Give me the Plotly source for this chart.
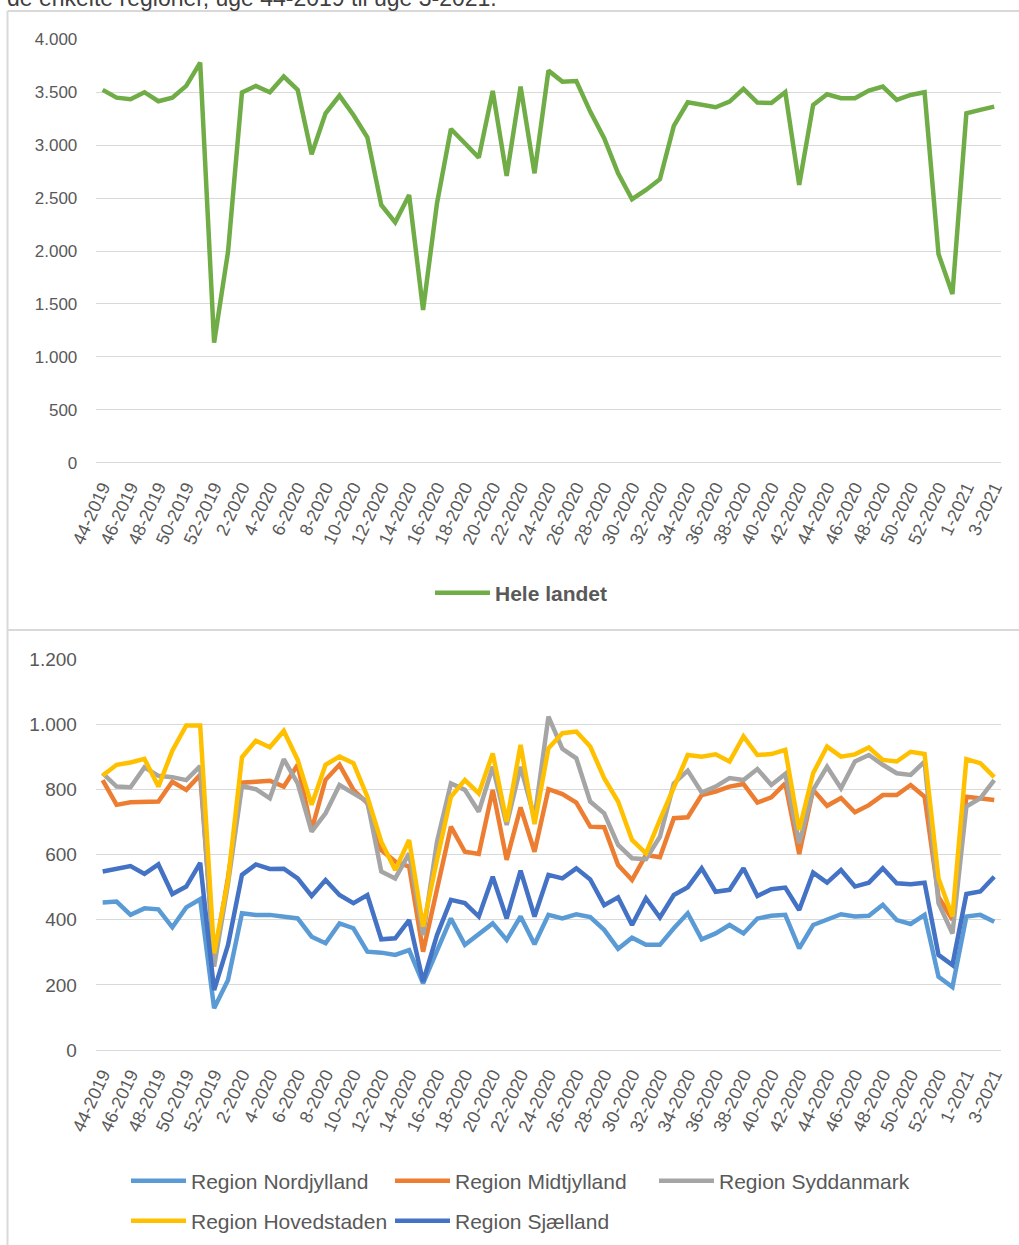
import plotly.graph_objects as go

# ---------------- data ----------------
weeks = ([f"{w}-2019" for w in range(44, 53)]
         + [f"{w}-2020" for w in range(1, 54)]
         + [f"{w}-2021" for w in range(1, 4)])

hele_landet = [3522, 3449, 3434, 3500, 3415, 3449, 3560, 3780, 1134, 1994,
               3497, 3560, 3500, 3648, 3522, 2914, 3301, 3468, 3285, 3074,
               2435, 2271, 2529, 1443, 2451, 3153, 3018, 2882, 3512, 2709,
               3553, 2734, 3704, 3600, 3606, 3317, 3065, 2734, 2489, 2577,
               2678, 3182, 3405, 3380, 3358, 3411, 3531, 3402, 3399, 3500,
               2624, 3380, 3481, 3443, 3443, 3515, 3553, 3427, 3474, 3500,
               1972, 1594, 3301, 3333, 3364]

nordjylland = [453, 456, 415, 435, 432, 377, 438, 463, 128, 215, 420, 415, 415, 408, 404, 348, 328,
               389, 374, 302, 299, 292, 307, 205, 307, 404, 323, 358, 389, 338, 410, 325, 415, 404,
               417, 408, 369, 311, 345, 323, 323, 374, 420, 340, 358, 384, 358, 404, 412, 415,
               312, 384, 399, 417, 410, 412, 446, 399, 387, 415, 225, 193, 410, 415, 394]

midtjylland = [829, 753, 761, 763, 763, 824, 799, 845, 280, 530, 821, 824, 827, 809, 876, 676, 830,
               876, 799, 758, 614, 579, 563, 302, 492, 686, 609, 602, 799, 584, 745, 609, 801, 786,
               760, 686, 684, 568, 522, 599, 592, 712, 715, 783, 794, 809, 817, 760, 776, 819,
               602, 799, 750, 774, 730, 752, 783, 783, 814, 778, 470, 400, 778, 773, 768]

syddanmark = [850, 809, 807, 868, 842, 838, 829, 872, 256, 512, 811, 801, 773, 893, 819, 671, 727,
              814, 788, 763, 548, 527, 604, 353, 640, 819, 799, 732, 870, 691, 870, 712, 1024, 925,
              896, 763, 727, 630, 589, 586, 655, 819, 858, 791, 809, 835, 829, 863, 814, 848,
              635, 799, 870, 804, 886, 906, 876, 850, 845, 886, 451, 358, 748, 773, 829]

hovedstaden = [843, 876, 883, 894, 809, 919, 997, 997, 297, 522, 899, 950, 930, 980, 891, 753, 876,
               901, 881, 778, 640, 553, 645, 379, 584, 778, 829, 788, 911, 701, 937, 694, 927, 973,
               978, 932, 835, 763, 645, 604, 707, 804, 906, 901, 908, 886, 963, 906, 909, 922,
               676, 850, 932, 901, 908, 929, 891, 886, 916, 909, 527, 410, 893, 881, 838]

sjaelland = [548, 555, 565, 541, 570, 479, 502, 575, 184, 323, 538, 570, 556, 557, 527, 473, 522,
             476, 451, 476, 340, 343, 399, 210, 353, 461, 451, 410, 532, 404, 551, 410, 538, 527,
             558, 524, 445, 469, 384, 466, 407, 476, 500, 558, 486, 492, 558, 473, 494, 499,
             430, 545, 514, 553, 502, 514, 558, 512, 509, 514, 292, 261, 479, 487, 532]

regions = [
    ("Region Nordjylland", nordjylland, "#5B9BD5", "legend2"),
    ("Region Midtjylland", midtjylland, "#ED7D31", "legend2"),
    ("Region Syddanmark", syddanmark, "#A5A5A5", "legend2"),
    ("Region Hovedstaden", hovedstaden, "#FFC000", "legend3"),
    ("Region Sjælland", sjaelland, "#4472C4", "legend3"),
]

# ---------------- figure ----------------
W, H = 1019, 1245
FONT = "Liberation Sans, Arial, sans-serif"
GREY_TXT = "#595959"
GRID = "#D9D9D9"
LW = 4.5

fig = go.Figure()
fig.add_trace(go.Scatter(x=weeks, y=hele_landet, mode="lines", name="Hele landet",
                         line=dict(color="#70AD47", width=LW), xaxis="x", yaxis="y",
                         legend="legend"))
for name, vals, col, leg in regions:
    fig.add_trace(go.Scatter(x=weeks, y=vals, mode="lines", name=name,
                             line=dict(color=col, width=LW), xaxis="x2", yaxis="y2",
                             legend=leg))

def px_x(p):
    return p / W

def px_y(p):
    return 1 - p / H

xdom = [px_x(95.7), px_x(1001.2)]
common_x = dict(type="category", categoryorder="array", categoryarray=weeks,
                range=[-0.5, 64.5], tickmode="array", tickvals=weeks[::2],
                tickangle=-65, tickfont=dict(family=FONT, size=18, color=GREY_TXT),
                showgrid=False, showline=False, zeroline=False, automargin=False,
                ticks="outside", ticklen=6, tickcolor="rgba(0,0,0,0)")
common_y = dict(gridcolor=GRID, gridwidth=1, showline=False, zeroline=True,
                zerolinecolor=GRID, zerolinewidth=1, separatethousands=True,
                automargin=False,
                ticks="outside", ticklen=14, tickcolor="rgba(0,0,0,0)")

fig.update_layout(
    width=W, height=H, autosize=False,
    margin=dict(l=0, r=0, t=0, b=0, pad=0, autoexpand=False),
    paper_bgcolor="white", plot_bgcolor="white",
    separators=",.",
    font=dict(family=FONT, color=GREY_TXT),
    xaxis=dict(domain=xdom, anchor="y", **common_x),
    yaxis=dict(domain=[px_y(462.7), px_y(39.3)], anchor="x", range=[0, 4000], dtick=500,
               tickfont=dict(family=FONT, size=17, color=GREY_TXT), **common_y),
    xaxis2=dict(domain=xdom, anchor="y2", **common_x),
    yaxis2=dict(domain=[px_y(1050), px_y(659.3)], anchor="x2", range=[0, 1200], dtick=200,
                tickfont=dict(family=FONT, size=19, color=GREY_TXT), **common_y),
    legend=dict(orientation="h", x=px_x(430), y=px_y(593), xanchor="left", yanchor="middle",
                font=dict(family=FONT, size=21, color=GREY_TXT, weight="bold"),
                itemwidth=55, bgcolor="rgba(0,0,0,0)"),
    legend2=dict(orientation="h", x=px_x(126), y=px_y(1181), xanchor="left", yanchor="middle",
                 font=dict(family=FONT, size=21, color=GREY_TXT),
                 itemwidth=55, entrywidth=194, bgcolor="rgba(0,0,0,0)"),
    legend3=dict(orientation="h", x=px_x(126), y=px_y(1221), xanchor="left", yanchor="middle",
                 font=dict(family=FONT, size=21, color=GREY_TXT),
                 itemwidth=55, entrywidth=194, bgcolor="rgba(0,0,0,0)"),
    showlegend=True,
)

# panel borders
shape_line = dict(color=GRID, width=2)
fig.add_shape(type="line", xref="paper", yref="paper", x0=px_x(7.5), x1=1,
              y0=px_y(11), y1=px_y(11), line=shape_line)
fig.add_shape(type="line", xref="paper", yref="paper", x0=px_x(7.5), x1=px_x(7.5),
              y0=px_y(11), y1=0, line=shape_line)
fig.add_shape(type="line", xref="paper", yref="paper", x0=px_x(7.5), x1=1,
              y0=px_y(630), y1=px_y(630), line=shape_line)

# cut-off title at the very top
fig.add_annotation(text="de enkelte regioner, uge 44-2019 til uge 3-2021.",
                   xref="paper", yref="paper", x=px_x(5), y=px_y(13),
                   xanchor="left", yanchor="bottom", showarrow=False,
                   font=dict(family=FONT, size=23, color="#404040"))

fig.write_html("out.html", config={"displayModeBar": False},
               post_script="document.body.style.margin='0';")
